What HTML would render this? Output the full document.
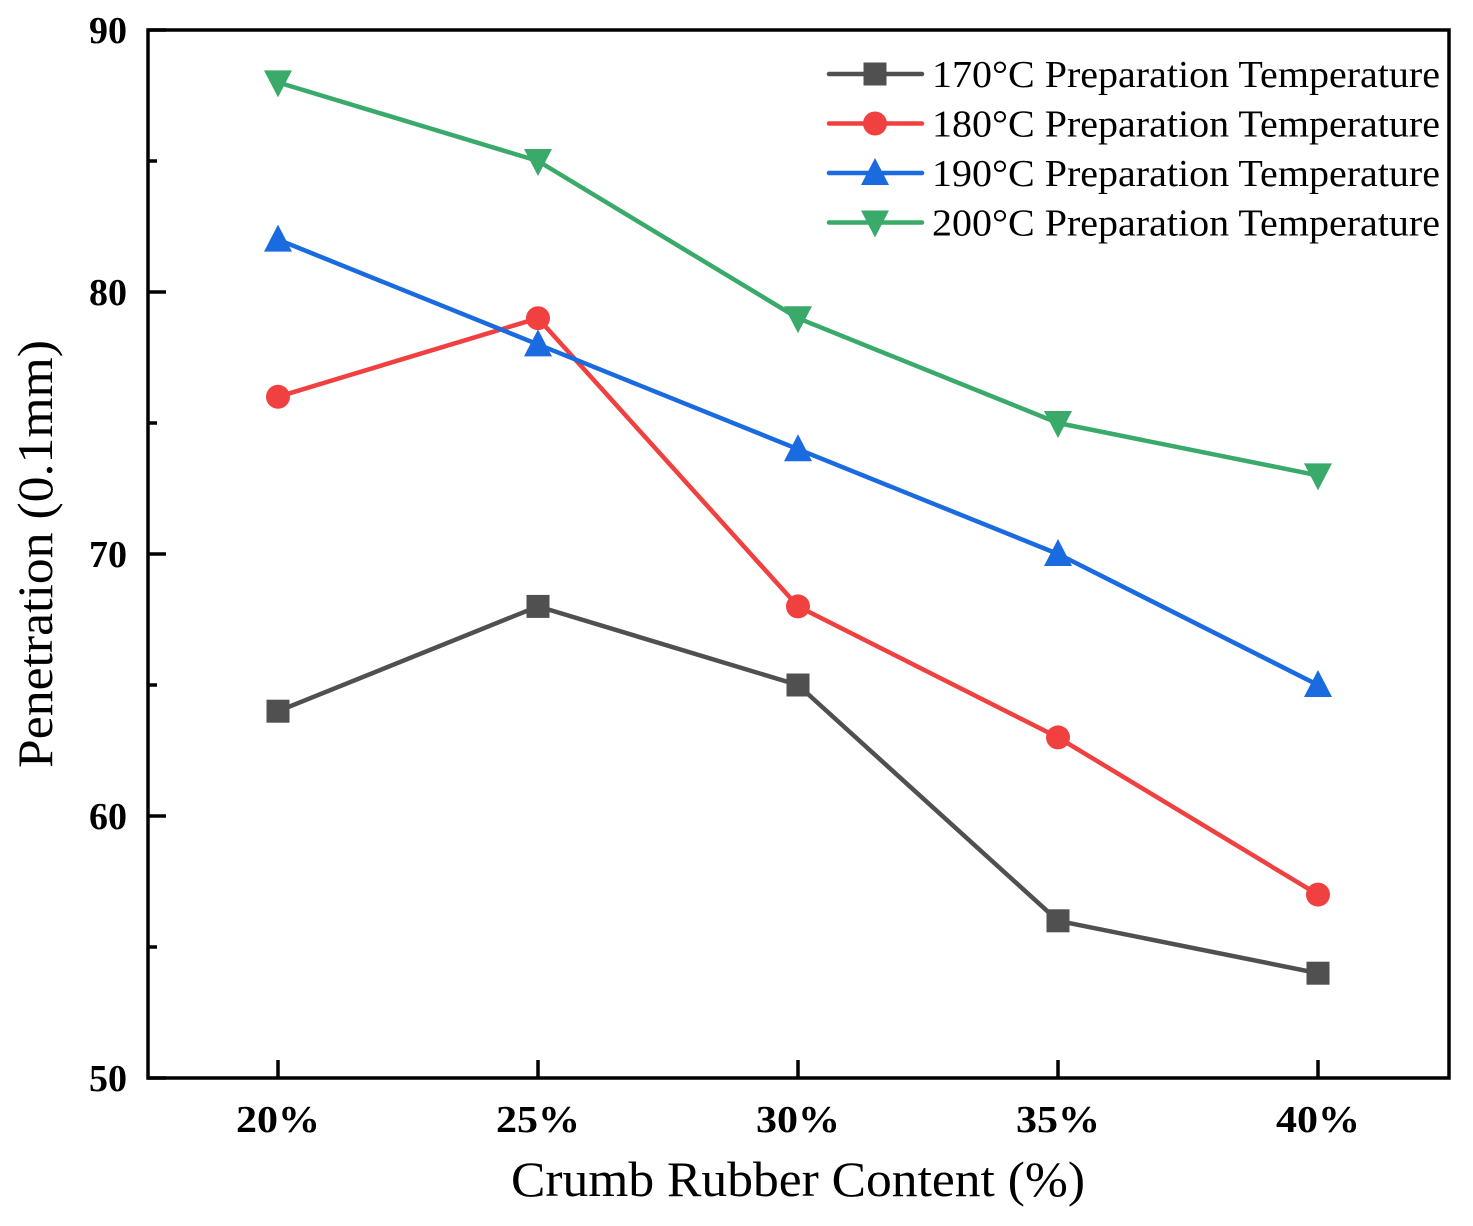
<!DOCTYPE html>
<html><head><meta charset="utf-8"><style>
body{margin:0;background:#fff}
</style></head><body>
<svg id="chart" width="1473" height="1221" viewBox="0 0 1473 1221" xmlns="http://www.w3.org/2000/svg" font-family="'Liberation Serif', 'Times New Roman', serif">
<g id="grid"></g>
<g id="series"></g>
<g id="legend"></g>
<text transform="translate(52,554) rotate(-90)" text-anchor="middle" font-size="50" textLength="428" lengthAdjust="spacingAndGlyphs">Penetration (0.1mm)</text>
<text x="798" y="1196" text-anchor="middle" font-size="50" textLength="574" lengthAdjust="spacingAndGlyphs">Crumb Rubber Content (%)</text>
</svg>
<script>
const categories = ["20%","25%","30%","35%","40%"];
const s170 = [64,68,65,56,54];
const s180 = [76,79,68,63,57];
const s190 = [82,78,74,70,65];
const s200 = [88,85,79,75,73];
const yTicks = [50,60,70,80,90];
const seriesNames = ["170°C Preparation Temperature","180°C Preparation Temperature","190°C Preparation Temperature","200°C Preparation Temperature"];

const NS="http://www.w3.org/2000/svg";
const L=148,R=1449,T=30,B=1078;
const yMin=50,yMax=90;
const x=i=>278+i*260;
const y=v=>B-(v-yMin)/(yMax-yMin)*(B-T);
function mk(tag,attrs,parent){const e=document.createElementNS(NS,tag);for(const k in attrs)e.setAttribute(k,attrs[k]);parent.appendChild(e);return e;}
const g=document.getElementById('grid');
const frame=mk('rect',{x:L,y:T,width:R-L,height:B-T,fill:'none',stroke:'#000','stroke-width':3.5},g);


yTicks.forEach((v,i)=>{
  const t=mk('line',{x1:L,x2:L+18,y1:y(v),y2:y(v),stroke:'#000','stroke-width':3.5},g);
  
  
  if(i<yTicks.length-1){
    const m=mk('line',{x1:L,x2:L+9,y1:y(v+5),y2:y(v+5),stroke:'#000','stroke-width':3.5},g);
    
    
  }
  const tx=mk('text',{x:127,y:y(v)+13,'text-anchor':'end','font-size':38,'font-weight':'bold'},g);
  tx.textContent=v;
  
  
});
categories.forEach((c,i)=>{
  const t=mk('line',{x1:x(i),x2:x(i),y1:B,y2:B-18,stroke:'#000','stroke-width':3.5},g);
  
  
  const tx=mk('text',{x:x(i),y:1132,'text-anchor':'middle','font-size':38,'font-weight':'bold',textLength:84,lengthAdjust:'spacingAndGlyphs'},g);
  tx.textContent=c;
  
  
});
const colors=['#505050','#f04040','#1a6ae0','#3aaa6a'];
const shapes=['square','circle','up','down'];
function marker(shape,cx,cy,col,p){
  let e;
  if(shape==='square')e=mk('rect',{x:cx-11.5,y:cy-11.5,width:23,height:23,fill:col},p);
  else if(shape==='circle')e=mk('circle',{cx:cx,cy:cy,r:12,fill:col},p);
  else if(shape==='up')e=mk('polygon',{points:`${cx-14},${cy+12} ${cx+14},${cy+12} ${cx},${cy-15}`,fill:col},p);
  else e=mk('polygon',{points:`${cx-14},${cy-12} ${cx+14},${cy-12} ${cx},${cy+15}`,fill:col},p);
  return e;
}
const sg=document.getElementById('series');
[s170,s180,s190,s200].forEach((data,si)=>{
  const grp=mk('g',{},sg);
  
  
  const pl=mk('polyline',{points:data.map((v,i)=>x(i)+','+y(v)).join(' '),fill:'none',stroke:colors[si],'stroke-width':4.5,'stroke-linejoin':'round'},grp);
  
  
  data.forEach((v,i)=>{
    const m=marker(shapes[si],x(i),y(v),colors[si],grp);
    
    
  });
});
const lg=document.getElementById('legend');
seriesNames.forEach((n,i)=>{
  const yy=74+i*49.5;
  const e=mk('g',{},lg);
  
  
  mk('line',{x1:829,x2:922,y1:yy,y2:yy,stroke:colors[i],'stroke-width':4.5,'stroke-linecap':'round'},e);
  marker(shapes[i],875,yy,colors[i],e);
  const t=mk('text',{x:932,y:yy+13,'font-size':38,textLength:508,lengthAdjust:'spacingAndGlyphs'},e);
  t.textContent=n;
});
</script>
</body></html>
